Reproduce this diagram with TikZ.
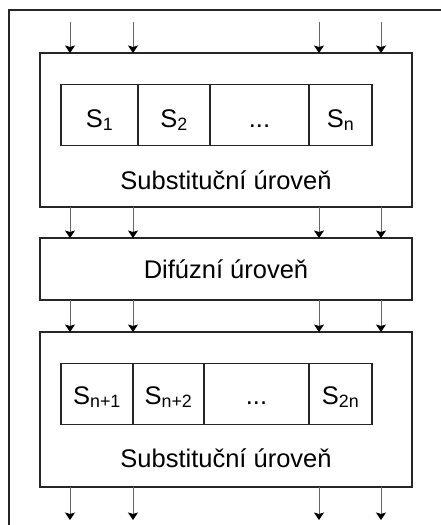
\documentclass[tikz,border=0pt]{standalone}
\usepackage{fontspec}
\setmainfont{Liberation Sans}
\usetikzlibrary{arrows.meta}
\usetikzlibrary{positioning}

\begin{document}
\begin{tikzpicture}[x=1pt,y=-1pt,node distance=0pt,on grid=false,
	font=\fontsize{25.5}{30}\selectfont,
	layer/.style={draw=black!85,line width=1.6pt,outer sep=0pt,inner sep=0pt,minimum width=372pt},
	sbox/.style={draw=black!85,line width=1.4pt,outer sep=0pt,inner sep=0pt,minimum height=61pt,text depth=0pt},
	flow/.style={draw=black!60,line width=1pt,-{Stealth[length=7.5pt,width=10pt,inset=1.5pt,color=black]}}]

				    \useasboundingbox (0,0) rectangle (441,525);
				    \draw[draw=black!85,line width=1.6pt] (441,10) -- (9,10) -- (9,525);

				    % Place nodes
				    \node[layer,minimum height=154pt] (sub1) at (226,130) {};
				    \node[layer,minimum height=62pt,below=31pt of sub1] (dif) {Dif\'uzn\'i \'urove\v{n}};
				    \node[layer,minimum height=155pt,below=32pt of dif] (sub2) {};

				    % first row of boxes
				    \begin{scope}[every node/.append style={text height=24pt}]
				    \node[sbox,minimum width=77pt,anchor=west] (s1) at (61,115) {S\textsubscript{1}};
				    \node[sbox,minimum width=72pt,right=of s1] (s2) {S\textsubscript{2}};
				    \node[sbox,minimum width=99pt,right=of s2] (sdots) {...};
				    \node[sbox,minimum width=63pt,right=of sdots] (sn) {S\textsubscript{n}};
				    \end{scope}
				    \node (lab1) at (226,180) {Substitu\v{c}n\'i \'urove\v{n}};

				    % second row of boxes
				    \begin{scope}[every node/.append style={text height=20pt}]
				    \node[sbox,minimum width=72pt,anchor=west] (sn1) at (61,394) {S\textsubscript{n+1}};
				    \node[sbox,minimum width=71pt,right=of sn1] (sn2) {S\textsubscript{n+2}};
				    \node[sbox,minimum width=105pt,right=of sn2] (sdots2) {...};
				    \node[sbox,minimum width=63pt,right=of sdots2] (s2n) {S\textsubscript{2n}};
				    \end{scope}
				    \node (lab2) at (226,458) {Substitu\v{c}n\'i \'urove\v{n}};

				    % arrows
				    \foreach \x in {70,133,319,381}{
				    	\coordinate (in) at (\x,22);
				    	\coordinate (out) at (\x,520);
				    	\draw[flow] (in) -- (in |- sub1.north);
				    	\draw[flow] (in |- sub1.south) -- (in |- dif.north);
				    	\draw[flow] (in |- dif.south) -- (in |- sub2.north);
				    	\draw[flow] (in |- sub2.south) -- (out);
				    }
				\end{tikzpicture}
\end{document}
